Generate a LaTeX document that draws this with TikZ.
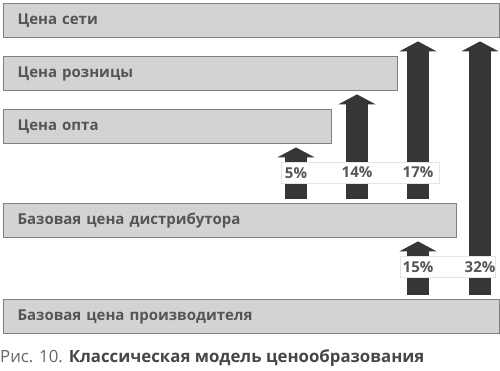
\documentclass[tikz,border=0pt]{standalone}
\usepackage{fontspec}
\setmainfont{Open Sans}
\usetikzlibrary{arrows.meta}

\definecolor{barfill}{HTML}{D3D3D3}
\definecolor{barline}{HTML}{808080}
\definecolor{bartext}{HTML}{555555}
\definecolor{arrcol}{HTML}{363636}
\definecolor{boxline}{HTML}{E4E4E4}

\begin{document}
\begin{tikzpicture}[x=1pt,y=-1pt,
					bar/.style={draw=barline,fill=barfill,line width=1.6pt,
					            anchor=north west,minimum height=34pt,
					            inner xsep=14pt,align=left,text=bartext,
					            font=\fontsize{15}{17}\selectfont\bfseries},
					arr/.style={draw=arrcol,line width=22pt,
					            shorten <=4pt,shorten >=3pt,
					            -{Triangle[width=37pt,length=10pt]}},
					lblbox/.style={draw=boxline,fill=white,line width=0.8pt,
					               anchor=north west,minimum height=21pt,inner sep=0pt},
					pct/.style={text=bartext,inner sep=0pt,
					            font=\fontsize{15}{17}\selectfont\bfseries}]

  \useasboundingbox (0,0) rectangle (500,371);

  % price levels
  \node[bar,text width=468pt] (net)    at (2.8,2.8)   {Цена сети};
  \node[bar,text width=366pt] (retail) at (2.8,55.8)  {Цена розницы};
  \node[bar,text width=300pt] (opt)    at (2.8,108.8) {Цена опта};
  \node[bar,text width=425pt] (dist)   at (2.8,202.8) {Базовая цена дистрибутора};
  \node[bar,text width=468pt] (prod)   at (2.8,298.8) {Базовая цена производителя};

  % columns of the markups
  \coordinate (c5)  at (296,0);
  \coordinate (c14) at (357,0);
  \coordinate (c17) at (418,0);
  \coordinate (c32) at (480,0);

  % markups
  \draw[arr] (dist.north -| c5)  -- (opt.south -| c5);
  \draw[arr] (dist.north -| c14) -- (retail.south -| c14);
  \draw[arr] (dist.north -| c17) -- (net.south -| c17);
  \draw[arr] (prod.north -| c17) -- (dist.south -| c17);
  \draw[arr] (prod.north -| c32) -- (net.south -| c32);

  % labels
  \node[lblbox,minimum width=158pt] (upbox)  at (281,162) {};
  \node[lblbox,minimum width=95pt]  (lowbox) at (400,256) {};
  \node[pct] (p5)  at (296,173) {5\%};
  \node[pct] (p14) at (357,172) {14\%};
  \node[pct] (p17) at (418,172) {17\%};
  \node[pct] (p15) at (418,267) {15\%};
  \node[pct] (p32) at (480,267) {32\%};

  \node[anchor=west,inner sep=0pt,font=\fontsize{16.8}{18}\selectfont] (caption) at (0,358)
    {\textcolor{black!60}{Рис. 10.} \textcolor{black!72}{\bfseries Классическая модель ценообразования}};
\end{tikzpicture}
\end{document}
